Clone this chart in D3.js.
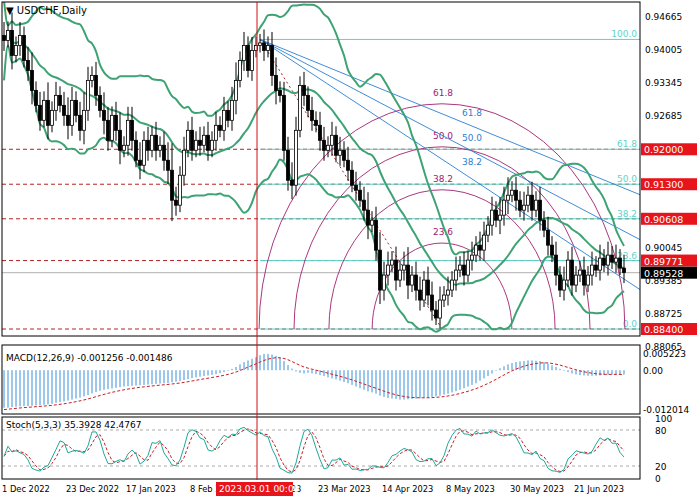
<!DOCTYPE html>
<html><head><meta charset="utf-8">
<script src="https://cdn.jsdelivr.net/npm/d3@7/dist/d3.min.js"></script>
<style>body{margin:0;background:#fff}text{font-family:"DejaVu Sans",sans-serif}</style>
</head><body><div id="chart"></div>
<script>
// daily closes, 1 Dec 2022 .. end Jun 2023
var closes = [
 0.9418,0.9438,0.9388,0.9408,0.9428,0.9378,0.9358,0.9318,
 0.9288,0.9258,0.9298,0.9248,0.9278,0.9308,0.9288,0.9268,
 0.9248,0.9298,0.9268,0.9238,0.9278,0.9338,0.9348,0.9308,
 0.9278,0.9258,0.9218,0.9268,0.9238,0.9198,0.9208,0.9258,
 0.9218,0.9178,0.9168,0.9218,0.9198,0.9228,0.9198,0.9208,
 0.9178,0.9158,0.9098,0.9088,0.9148,0.9198,0.9238,0.9198,
 0.9218,0.9208,0.9228,0.9198,0.9218,0.9248,0.9238,0.9278,
 0.9258,0.9298,0.9338,0.9378,0.9408,0.9358,0.9398,0.9408,
 0.9413,0.9398,0.9408,0.9348,0.9318,0.9308,0.9198,0.9138,
 0.9128,0.9238,0.9328,0.9308,0.9278,0.9258,0.9248,0.9218,
 0.9198,0.9208,0.9228,0.9188,0.9198,0.9178,0.9158,0.9128,
 0.9118,0.9098,0.9078,0.9048,0.9058,0.8998,0.8918,0.8948,
 0.8968,0.8978,0.8938,0.8958,0.8968,0.8928,0.8948,0.8918,
 0.8898,0.8938,0.8908,0.8878,0.8862,0.8898,0.8908,0.8918,
 0.8938,0.8958,0.8968,0.8948,0.8978,0.8988,0.9008,0.8998,
 0.9028,0.9048,0.9078,0.9058,0.9068,0.9098,0.9108,0.9118,
 0.9098,0.9078,0.9088,0.9108,0.9078,0.9098,0.9058,0.9038,
 0.9008,0.8988,0.8948,0.8918,0.8938,0.8978,0.8928,0.8948,
 0.8958,0.8928,0.8948,0.8968,0.8958,0.8982,0.8968,0.8988,
 0.8974,0.8982,0.8962,0.8953];
// wick length per bar (price units)
var wicks = [
 .003,.002,.004,.002,.003,.002,.003,.004, .002,.003,.002,.004,.002,.003,.002,.003,
 .004,.003,.002,.003,.004,.003,.002,.003, .002,.004,.003,.002,.003,.004,.002,.003,
 .003,.002,.004,.002,.003,.002,.003,.002, .003,.004,.006,.003,.002,.003,.002,.003,
 .002,.003,.002,.003,.002,.003,.002,.003, .002,.003,.004,.002,.003,.002,.003,.002,
 .002,.003,.002,.003,.004,.002,.003,.003, .004,.003,.002,.003,.002,.003,.002,.003,
 .003,.002,.003,.002,.003,.002,.003,.002, .003,.002,.003,.004,.002,.003,.004,.003,
 .003,.002,.003,.002,.003,.004,.002,.003, .003,.002,.003,.003,.002,.003,.002,.003,
 .002,.003,.002,.003,.002,.003,.002,.003, .003,.002,.003,.002,.004,.003,.004,.002,
 .003,.002,.003,.002,.003,.002,.003,.002, .003,.002,.003,.002,.003,.002,.003,.002,
 .002,.003,.002,.003,.002,.003,.002,.003, .002,.003,.002,.003];
var macd = [
 -.0115,-.0115,-.0113,-.0112,-.0111,-.0110,-.0110,-.0109,
 -.0108,-.0107,-.0106,-.0105,-.0103,-.0100,-.0098,-.0096,
 -.0093,-.0090,-.0087,-.0084,-.0080,-.0076,-.0071,-.0067,
 -.0063,-.0060,-.0058,-.0056,-.0054,-.0052,-.0050,-.0049,
 -.0048,-.0047,-.0046,-.0045,-.0044,-.0043,-.0042,-.0041,
 -.0040,-.0039,-.0037,-.0035,-.0033,-.0030,-.0027,-.0024,
 -.0022,-.0020,-.0018,-.0016,-.0014,-.0012,-.0009,-.0006,
 -.0002,.0004,.0010,.0018,.0025,.0030,.0035,.0040,
 .0046,.0050,.0050,.0048,.0044,.0038,.0028,.0016,
 .0005,-.0004,-.0008,-.0010,-.0008,-.0010,-.0012,-.0015,
 -.0018,-.0022,-.0025,-.0028,-.0032,-.0036,-.0040,-.0045,
 -.0050,-.0055,-.0060,-.0065,-.0068,-.0072,-.0078,-.0082,
 -.0085,-.0087,-.0088,-.0090,-.0090,-.0089,-.0088,-.0087,
 -.0086,-.0085,-.0084,-.0082,-.0080,-.0078,-.0075,-.0072,
 -.0068,-.0064,-.0060,-.0055,-.0050,-.0045,-.0040,-.0032,
 -.0025,-.0018,-.0010,-.0002,.0006,.0012,.0018,.0022,
 .0025,.0027,.0028,.0030,.0030,.0029,.0028,.0025,
 .0020,.0015,.0010,.0004,-.0002,-.0006,-.0010,-.0013,
 -.0015,-.0016,-.0017,-.0017,-.0017,-.0016,-.0015,-.0014,
 -.0013,-.0013,-.0013,-.0013];
var dateTicks = [[0,"1 Dec 2022"],[16,"23 Dec 2022"],[31,"17 Jan 2023"],[47,"8 Feb 2023"],[63,"1 Mar 2023"],
 [79,"23 Mar 2023"],[95,"14 Apr 2023"],[111,"8 May 2023"],[127,"30 May 2023"],[143,"21 Jun 2023"]];
var priceTicks = [0.94665,0.94005,0.93345,0.92685,0.90045,0.89385,0.88725,0.88065];
var levelPrices = [0.92000,0.91300,0.90608,0.89771,0.88400];
var fibLevels = ["100.0","61.8","50.0","38.2","23.6","0.0"];
var fibPrices = [0.9420,0.9200,0.9130,0.90608,0.89771,0.8840];
var fanLevels = ["61.8","50.0","38.2"];
var fanEnd = [0.9109,0.9019,0.8919];
var arcLevels = [0.618,0.5,0.382,0.236];
var lastPrice = 0.89528;

var W = 700, H = 500, R = 640;
var svg = d3.select("#chart").append("svg").attr("width", W).attr("height", H);
var x = d3.scaleLinear().domain([0, 159]).range([4, 640]);
var y = d3.scaleLinear().domain([0.8826, 0.9495]).range([336, 2]);
var ym = d3.scaleLinear().domain([-0.0125, 0.0065]).range([411, 349]);
var ys = d3.scaleLinear().domain([0, 100]).range([478, 418]);

// OHLC from closes (open = previous close)
var bars = closes.map(function(c, i) {
    var o = i == 0 ? 0.9428 : closes[i - 1];
    return {i: i, o: o, c: c, h: Math.max(o, c) + wicks[i] * 0.9, l: Math.min(o, c) - wicks[i] * 0.7};
});

var main = svg.append("g");
main.append("clipPath").attr("id", "cm").append("rect").attr("x", 2).attr("y", 2).attr("width", R - 2).attr("height", 334);
var g = main.append("g").attr("clip-path", "url(#cm)");

// horizontal levels
levelPrices.forEach(function(p) {
    g.append("line").attr("x1", 2).attr("x2", R).attr("y1", y(p)).attr("y2", y(p))
        .attr("stroke", "#b22222").attr("stroke-dasharray", "4,3");
});
g.append("line").attr("x1", 2).attr("x2", R).attr("y1", y(lastPrice)).attr("y2", y(lastPrice)).attr("stroke", "#b0b0b0");
fibPrices.forEach(function(p, k) {
    g.append("line").attr("x1", x(64)).attr("x2", R).attr("y1", y(p)).attr("y2", y(p)).attr("stroke", "#5fd3c8");
    g.append("text").attr("x", 637).attr("y", y(p) - 2).attr("text-anchor", "end").attr("font-size", 9)
        .attr("fill", "#5fd3c8").text(fibLevels[k]);
});

// fib arcs
var cx = 109.5, cp = 0.8840;
arcLevels.forEach(function(r) {
    var rx = x(cx + r * 74) - x(cx), ry = y(cp) - y(cp + r * 0.073);
    g.append("path").attr("d", "M" + (x(cx) - rx) + "," + y(cp) + " A" + rx + "," + ry + " 0 0 1 " + (x(cx) + rx) + "," + y(cp))
        .attr("fill", "none").attr("stroke", "#a0206e").attr("stroke-width", 0.9);
    g.append("text").attr("x", x(cx) - 9).attr("y", y(cp) - ry - 8).attr("font-size", 9).attr("fill", "#a0206e")
        .text((r * 100).toFixed(1));
});
g.append("line").attr("x1", x(64)).attr("y1", y(0.9420)).attr("x2", x(cx)).attr("y2", y(cp))
    .attr("stroke", "#b22222").attr("stroke-dasharray", "2,3");

// fan
fanEnd.forEach(function(p, k) {
    g.append("line").attr("x1", x(64)).attr("y1", y(0.9420)).attr("x2", R).attr("y2", y(p))
        .attr("stroke", "#2a7fd4").attr("stroke-width", 0.9);
    g.append("text").attr("x", 462).attr("y", 116 + k * 24.5).attr("font-size", 9).attr("fill", "#2a7fd4").text(fanLevels[k]);
});

// bollinger bands (20, 2)
var bb = bars.map(function(b, i) {
    var win = closes.slice(Math.max(0, i - 19), i + 1);
    var m = d3.mean(win), sd = win.length > 1 ? d3.deviation(win) * Math.sqrt((win.length - 1) / win.length) : 0.004;
    return {i: i, m: m, u: m + 2 * sd, l: m - 2 * sd};
});
["u", "m", "l"].forEach(function(k) {
    g.append("path").datum(bb).attr("fill", "none").attr("stroke", "#3ea374").attr("stroke-width", 2)
        .attr("d", d3.line().curve(d3.curveMonotoneX).x(function(d) { return x(d.i); }).y(function(d) { return y(d[k]); }));
});

// candles
var cg = g.selectAll("g.c").data(bars).enter().append("g");
cg.append("line").attr("x1", function(d) { return x(d.i); }).attr("x2", function(d) { return x(d.i); })
    .attr("y1", function(d) { return y(d.h); }).attr("y2", function(d) { return y(d.l); }).attr("stroke", "#000");
cg.append("rect").attr("x", function(d) { return x(d.i) - 1.5; }).attr("width", 3)
    .attr("y", function(d) { return y(Math.max(d.o, d.c)); })
    .attr("height", function(d) { return Math.max(1, Math.abs(y(d.o) - y(d.c))); })
    .attr("fill", function(d) { return d.c >= d.o ? "#fff" : "#000"; }).attr("stroke", "#000").attr("stroke-width", 0.8);

main.append("text").attr("x", 6).attr("y", 14).attr("font-size", 10).text("\u25BC USDCHF,Daily");

// MACD panel
var mg = svg.append("g");
mg.selectAll("line.h").data(macd).enter().append("line")
    .attr("x1", function(d, i) { return x(i); }).attr("x2", function(d, i) { return x(i); })
    .attr("y1", ym(0)).attr("y2", function(d) { return ym(d); }).attr("stroke", "#3a8fd9").attr("stroke-width", 1);
var sig = [], s = -0.0122;
macd.forEach(function(v) { s = s + (v - s) * 0.2; sig.push(s); });
mg.append("path").datum(sig).attr("fill", "none").attr("stroke", "#cc1f1f").attr("stroke-dasharray", "3,2")
    .attr("d", d3.line().x(function(d, i) { return x(i); }).y(function(d) { return ym(d); }));
mg.append("text").attr("x", 6).attr("y", 361).attr("font-size", 9).text("MACD(12,26,9) -0.001256 -0.001486");

// Stochastic (5,3,3)
var kRaw = bars.map(function(b, i) {
    var w = bars.slice(Math.max(0, i - 4), i + 1);
    var hh = d3.max(w, function(d) { return d.h; }), ll = d3.min(w, function(d) { return d.l; });
    return 100 * (b.c - ll) / (hh - ll);
});
var kS = kRaw.map(function(v, i) { return d3.mean(kRaw.slice(Math.max(0, i - 2), i + 1)); });
var dS = kS.map(function(v, i) { return d3.mean(kS.slice(Math.max(0, i - 2), i + 1)); });
var sg = svg.append("g");
[80, 20].forEach(function(v) {
    sg.append("line").attr("x1", 2).attr("x2", R).attr("y1", ys(v)).attr("y2", ys(v)).attr("stroke", "#aaa").attr("stroke-dasharray", "3,3");
});
sg.append("path").datum(dS).attr("fill", "none").attr("stroke", "#cc1f1f").attr("stroke-dasharray", "3,2")
    .attr("d", d3.line().x(function(d, i) { return x(i); }).y(function(d) { return ys(d); }));
sg.append("path").datum(kS).attr("fill", "none").attr("stroke", "#20a89c")
    .attr("d", d3.line().x(function(d, i) { return x(i); }).y(function(d) { return ys(d); }));
sg.append("text").attr("x", 6).attr("y", 428).attr("font-size", 9).text("Stoch(5,3,3) 35.3928 42.4767");

// frames
[[2, 336], [345, 414], [417, 479]].forEach(function(p) {
    svg.append("rect").attr("x", 2).attr("y", p[0]).attr("width", R - 2).attr("height", p[1] - p[0])
        .attr("fill", "none").attr("stroke", "#000");
});

// right axis
priceTicks.forEach(function(p) {
    svg.append("text").attr("x", 645).attr("y", y(p) + 4).attr("font-size", 9).text(p.toFixed(5));
});
[[0.005223, "0.005223"], [0, "0.00"], [-0.012014, "-0.012014"]].forEach(function(t) {
    svg.append("text").attr("x", 643).attr("y", ym(t[0]) + 4).attr("font-size", 9).text(t[1]);
});
[[100, "100"], [80, "80"], [20, "20"], [0, "0"]].forEach(function(t) {
    svg.append("text").attr("x", 655).attr("y", ys(t[0]) + 4).attr("font-size", 9).text(t[1]);
});
function tag(p, bg) {
    svg.append("rect").attr("x", 641).attr("y", y(p) - 6).attr("width", 56).attr("height", 12).attr("fill", bg);
    svg.append("text").attr("x", 644).attr("y", y(p) + 4).attr("font-size", 9.5).attr("fill", "#fff").text(p.toFixed(5));
}
levelPrices.forEach(function(p) { tag(p, "#e8141b"); });
tag(lastPrice, "#000");

// date axis
dateTicks.forEach(function(t) {
    svg.append("text").attr("x", x(t[0]) - 2).attr("y", 492).attr("font-size", 8.3).text(t[1]);
});
svg.append("line").attr("x1", 257).attr("x2", 257).attr("y1", 2).attr("y2", 480).attr("stroke", "#d01010");
svg.append("rect").attr("x", 216).attr("y", 482).attr("width", 77).attr("height", 14).attr("fill", "#e8141b");
svg.append("text").attr("x", 219).attr("y", 492).attr("font-size", 9).attr("fill", "#fff").text("2023.03.01 00:00");
</script></body></html>
